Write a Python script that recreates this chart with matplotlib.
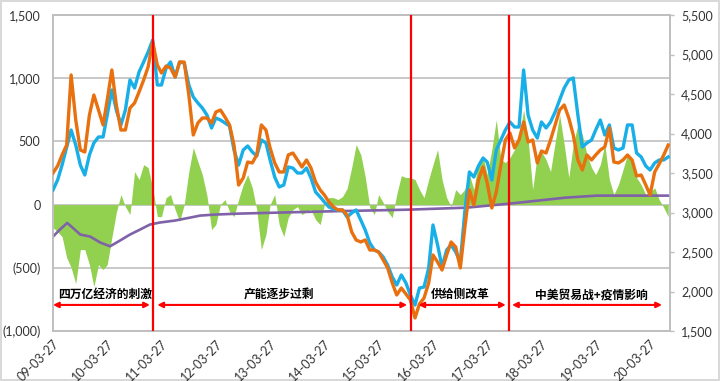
import numpy as np
import pandas as pd
import matplotlib
matplotlib.use("Agg")
import matplotlib.pyplot as plt
import matplotlib.ticker as mticker
import matplotlib.dates as mdates

plt.rcParams['font.family'] = ['Lato', 'Noto Sans CJK SC', 'DejaVu Sans']

# monthly samples from 2009-03-27
start = "2009-03-27"
n_months = 137

# right axis (blue / orange)
blue = [3285, 3411, 3601, 3829, 4044, 3854, 3601, 3475, 3728, 3880,
        3956, 3956, 4234, 4551, 4297, 4108, 4297, 4677, 4576, 4778,
        4905, 5032, 5184, 4614, 4614, 4829, 4905, 4715, 4905, 4892,
        4614, 4462, 4386, 4323, 4234, 4070, 4196, 4171, 4133, 4095,
        3791, 3601, 3791, 3842, 3766, 3715, 3918, 3880, 3665, 3449,
        3323, 3348, 3576, 3563, 3500, 3500, 3563, 3437, 3260, 3196,
        3133, 3070, 3044, 3032, 3032, 2943, 2994, 3032, 2905, 2778,
        2614, 2525, 2500, 2437, 2335, 2184, 2082, 2209, 2108, 1956,
        1829, 2044, 2057, 2298, 2842, 2589, 2310, 2525, 2589, 2500,
        2373, 3006, 3513, 3449, 3589, 3690, 3639, 3411, 3791, 3918,
        4044, 4146, 4082, 4082, 4804, 4234, 4044, 3943, 4146, 4070,
        4146, 4272, 4424, 4576, 4677, 4703, 4234, 3829, 3880, 3918,
        4044, 4171, 3981, 4108, 3817, 3791, 3817, 4108, 4108, 3753,
        3703, 3589, 3538, 3627, 3665, 3665, 3703]

orange = [3500, 3589, 3728, 3854, 4741, 4171, 3791, 3766, 4234, 4487,
          4297, 4108, 4424, 4804, 4361, 4044, 4044, 4323, 4386, 4525,
          4677, 4842, 5158, 4867, 4766, 4854, 4829, 4715, 4905, 4905,
          4487, 3981, 4133, 4196, 4196, 4133, 4272, 4297, 4209, 4108,
          3854, 3348, 3437, 3639, 3627, 3728, 4108, 4044, 3817, 3627,
          3513, 3513, 3728, 3753, 3665, 3576, 3665, 3563, 3386, 3285,
          3222, 3133, 3070, 3032, 3032, 2968, 2753, 2652, 2627, 2652,
          2525, 2525, 2500, 2399, 2298, 2108, 1956, 2044, 1968, 1892,
          1665, 1842, 1918, 2108, 2462, 2373, 2272, 2462, 2627, 2563,
          2298, 2804, 3285, 3095, 3411, 3576, 3373, 3057, 3260, 3601,
          3918, 4006, 3817, 3918, 4146, 3892, 3918, 3627, 3778, 3753,
          3918, 4108, 4297, 4361, 4196, 3981, 3665, 3538, 3728, 3665,
          3728, 3791, 3829, 4070, 3639, 3627, 3665, 3728, 3665, 3462,
          3475, 3348, 3222, 3513, 3614, 3728, 3854]

# left axis (green area)
green = [-182, -214, -253, -419, -498, -625, -356, -356, -475, -649,
         -475, -514, -475, -261, -63, 79, -16, -79, 261, 198,
         316, 293, 134, -95, -95, 55, 79, -40, -134, 0,
         261, 451, 340, 237, 71, -198, -158, 0, 40, -55,
         -95, 40, 158, 237, 134, -40, -356, -237, 0, 79,
         -158, -253, -103, -40, -16, -79, -55, -40, -119, -158,
         0, 55, 55, 40, 63, 127, 293, 475, 396, 221,
         -24, -79, 79, 16, -55, -103, 79, 229, 214, 214,
         198, 119, 55, 198, 316, 435, 198, 55, -16, 119,
         79, 119, 237, 119, 340, 380, 237, 435, 672, 356,
         332, 372, 435, 514, 750, 514, 119, 396, 419, 356,
         261, 490, 712, 475, 214, 475, 633, 554, 396, 293,
         237, 316, 475, 198, 79, 158, 277, 396, 340, 214,
         158, 79, 95, 134, 40, -24, -95]

# left axis (purple line)
purple_dates = ["2009-03-27", "2009-05-12", "2009-07-01", "2009-09-27", "2009-12-02",
                "2010-02-08", "2010-04-15", "2010-06-20", "2010-08-27", "2010-11-02",
                "2011-01-08", "2011-03-15", "2011-06-27", "2011-10-05", "2011-12-12",
                "2012-03-20", "2012-09-05", "2014-02-27", "2015-10-15", "2016-11-10",
                "2017-08-27", "2018-09-05", "2019-04-05", "2020-08-08"]
purple = [-253, -198, -145, -237, -253, -300, -330, -285, -237, -198,
          -158, -142, -126, -103, -87, -79, -71, -55, -40, -24,
          8, 55, 71, 71]

split_dates = ["2011-01-30", "2015-10-28", "2017-08-20"]
phase_spans = [("2009-03-27", "2011-01-08"), ("2011-02-27", "2015-10-05"),
               ("2015-12-20", "2017-07-30"), ("2017-09-10", "2020-06-15")]
phase_names = ["四万亿经济的刺激", "产能逐步过剩", "供给侧改革", "中美贸易战+疫情影响"]
phase_centers = ["2010-03-12", "2013-05-27", "2016-09-27", "2019-02-27"]

dates = pd.date_range(start, periods=n_months, freq=pd.DateOffset(months=1))
pdates = pd.to_datetime(purple_dates)
year_ticks = pd.date_range("2009-03-27", "2020-03-27", freq=pd.DateOffset(years=1))

grey = '#BFBFBF'

fig = plt.figure(figsize=(7.2, 3.81), dpi=100)
fig.patch.set_edgecolor('#D9D9D9')
fig.patch.set_linewidth(1.5)
ax = fig.add_axes([53/720, 1-331/381, 617/720, 316/381])

ax.fill_between(dates, green, 0, color='#92D050', lw=0, zorder=2)
ax.plot(pdates, purple, color='#7F62A8', lw=1.9, zorder=3)

ax.set_ylim(-1000, 1500)
ax.set_yticks(np.arange(-1000, 1501, 500))
ax.yaxis.set_major_formatter(mticker.FuncFormatter(
    lambda v, p: f"({abs(v):,.0f})" if v < 0 else f"{v:,.0f}"))
ax.yaxis.grid(True, color=grey, lw=1.2)
ax.set_axisbelow(True)
ax.set_xlim(pd.Timestamp("2009-03-27"), pd.Timestamp("2020-08-08"))
ax.set_xticks(year_ticks)
ax.xaxis.set_major_formatter(mdates.DateFormatter('%y-%m-%d'))
ax.tick_params(axis='y', length=0, pad=9, labelsize=9, colors='#333333')
ax.tick_params(axis='x', length=0, pad=5, labelsize=9, colors='#333333')
for lab in ax.get_xticklabels():
    lab.set_rotation(45)
    lab.set_ha('right')
    lab.set_va('top')
    lab.set_rotation_mode('anchor')
for s in ax.spines.values():
    s.set_color(grey)
    s.set_linewidth(1.2)

ax2 = ax.twinx()
ax2.plot(dates, blue, color='#18AEE8', lw=2.4, zorder=3)
ax2.plot(dates, orange, color='#E8700F', lw=2.4, zorder=4)
ax2.set_ylim(1500, 5500)
ax2.set_yticks(np.arange(1500, 5501, 500))
ax2.yaxis.set_major_formatter(mticker.FuncFormatter(lambda v, p: f"{v:,.0f}"))
ax2.tick_params(axis='y', length=3, width=1, color=grey, pad=5, labelsize=9,
                labelcolor='#333333')
for s in ax2.spines.values():
    s.set_color(grey)
    s.set_linewidth(1.2)

for d in split_dates:
    ax2.axvline(pd.Timestamp(d), color='#FF0000', lw=1.6, zorder=6)

for (a, b), name, c in zip(phase_spans, phase_names, phase_centers):
    ax2.annotate('', xy=(mdates.date2num(pd.Timestamp(b)), 1830),
                 xytext=(mdates.date2num(pd.Timestamp(a)), 1830),
                 arrowprops=dict(arrowstyle='<|-|>', color='#FF0000', lw=1.5,
                                 mutation_scale=8, shrinkA=0, shrinkB=0),
                 zorder=6)
    ax2.text(mdates.date2num(pd.Timestamp(c)), 1960, name, ha='center', va='center',
             fontsize=8.5, family=['Noto Sans CJK SC', 'DejaVu Sans'], color='#000000',
             fontweight='bold', zorder=7)

fig.savefig('out.png', dpi=100)
